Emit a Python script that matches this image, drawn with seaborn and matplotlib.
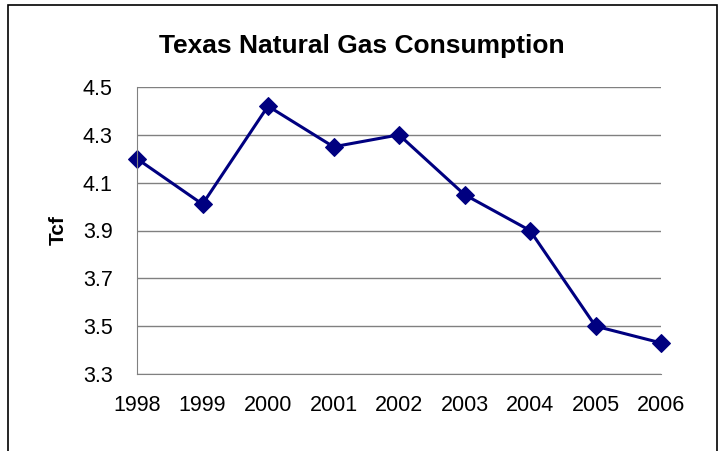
import matplotlib
matplotlib.use("Agg")
import matplotlib.pyplot as plt
import seaborn as sns
import pandas as pd
from matplotlib.patches import Rectangle

# Chart data
years = [1998, 1999, 2000, 2001, 2002, 2003, 2004, 2005, 2006]
consumption_tcf = [4.20, 4.01, 4.42, 4.25, 4.30, 4.05, 3.90, 3.50, 3.43]
y_ticks = [3.3, 3.5, 3.7, 3.9, 4.1, 4.3, 4.5]

df = pd.DataFrame({"year": years, "tcf": consumption_tcf})

sns.set_style("white")
plt.rcParams['font.family'] = ['Liberation Sans', 'DejaVu Sans']
plt.rcParams['text.color'] = 'black'

fig = plt.figure(figsize=(7.27, 4.51), dpi=100)
ax = fig.add_axes([137 / 727, 1 - 374 / 451, (661 - 137) / 727, (374 - 87) / 451])

# outer chart border (Excel style)
fig.patches.append(Rectangle((8 / 727, -0.05), (717 - 8) / 727, 1 - 5 / 451 + 0.05,
                             transform=fig.transFigure, fill=False,
                             edgecolor="black", linewidth=1.2))

sns.lineplot(data=df, x="year", y="tcf", ax=ax, color="#000080", linewidth=2.2,
             marker="D", markersize=9, markeredgecolor="#000080", clip_on=False)

ax.set_xlim(1998, 2006)
ax.set_ylim(3.3, 4.5)
ax.set_xticks(years)
ax.set_xticklabels([str(y) for y in years])
ax.set_yticks(y_ticks)
ax.set_yticklabels([f"{v:.1f}" for v in y_ticks])

ax.grid(axis="y", color="#808080", linewidth=1)
ax.grid(axis="x", visible=False)
for side in ["top", "right"]:
    ax.spines[side].set_visible(False)
ax.spines["left"].set_color("#808080")
ax.spines["bottom"].set_color("#808080")

ax.tick_params(axis="both", labelsize=15.5, labelcolor="black", color="#808080", width=1)
ax.tick_params(axis="x", direction="inout", length=12, pad=9)
ax.tick_params(axis="y", direction="out", length=6, pad=11.5)
ax.set_xlabel("")
ax.set_ylabel("Tcf", fontsize=15, fontweight="bold", color="black", labelpad=11)

fig.text(362 / 727, 1 - 46 / 451, "Texas Natural Gas Consumption",
         ha="center", va="center", fontsize=19, fontweight="bold", color="black")

fig.savefig("out.png", dpi=100)
